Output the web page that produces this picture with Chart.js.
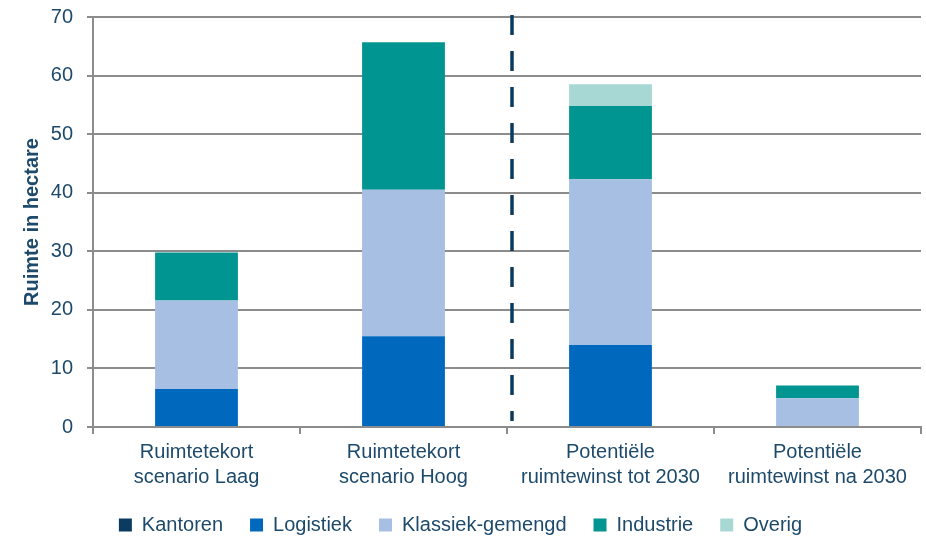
<!DOCTYPE html>
<html>
<head>
<meta charset="utf-8">
<script src="https://cdn.jsdelivr.net/npm/chart.js@4/dist/chart.umd.min.js"></script>
<style>
  html, body { margin: 0; padding: 0; background: #ffffff; }
  #wrap { width: 926px; height: 536px; position: relative; }
</style>
</head>
<body>
<div id="wrap"><canvas id="c"></canvas></div>
<script>
// Categories (two-line labels)
const categories = [
  ['Ruimtetekort', 'scenario Laag'],
  ['Ruimtetekort', 'scenario Hoog'],
  ['Potentiële', 'ruimtewinst tot 2030'],
  ['Potentiële', 'ruimtewinst na 2030']
];

// Hectares per segment type
const kantoren        = [0, 0, 0, 0];
const logistiek       = [6.5, 15.5, 14.0, 0];
const klassiekGemengd = [15.1, 25.0, 28.3, 4.9];
const industrie       = [8.2, 25.2, 12.5, 2.2];
const overig          = [0, 0, 3.7, 0];

const yTicks = [0, 10, 20, 30, 40, 50, 60, 70];

const textColor = '#1d4a6b';
const gridColor = '#8c8c8c';
const fontFamily = 'Liberation Sans, Arial, sans-serif';

// Vertical dashed separator between the shortfall and gain groups
const separator = {
  id: 'separator',
  afterDatasetsDraw(chart) {
    const x = chart.scales.x;
    const area = chart.chartArea;
    const px = (x.getPixelForValue(1) + x.getPixelForValue(2)) / 2 + 5;
    const ctx = chart.ctx;
    ctx.save();
    ctx.strokeStyle = '#0d3a5c';
    ctx.lineWidth = 3.5;
    ctx.setLineDash([20, 16]);
    ctx.beginPath();
    ctx.moveTo(px, area.top - 2);
    ctx.lineTo(px, area.bottom - 6);
    ctx.stroke();
    ctx.restore();
  }
};

const ds = (label, data, color) => ({
  label, data,
  backgroundColor: color,
  borderWidth: 0,
  barPercentage: 0.8,
  categoryPercentage: 0.5
});

new Chart(document.getElementById('c'), {
  type: 'bar',
  data: {
    labels: categories,
    datasets: [
      ds('Kantoren', kantoren, '#0b3b5e'),
      ds('Logistiek', logistiek, '#0068bd'),
      ds('Klassiek-gemengd', klassiekGemengd, '#a6bfe3'),
      ds('Industrie', industrie, '#009591'),
      ds('Overig', overig, '#a8d8d4')
    ]
  },
  options: {
    responsive: true,
    maintainAspectRatio: false,
    animation: false,
    layout: { autoPadding: false, padding: { top: 17, right: 5, left: 0, bottom: -9 } },
    plugins: {
      tooltip: { enabled: false },
      legend: {
        position: 'bottom',
        labels: {
          boxWidth: 13,
          boxHeight: 13,
          padding: 27,
          color: textColor,
          font: { family: fontFamily, size: 20 }
        }
      }
    },
    scales: {
      x: {
        stacked: true,
        grid: {
          display: true,
          offset: true,
          drawOnChartArea: false,
          drawTicks: true,
          tickLength: 7,
          color: gridColor,
          lineWidth: 2
        },
        border: { color: gridColor, width: 2 },
        ticks: {
          color: textColor,
          padding: 6,
          maxRotation: 0,
          font: { family: fontFamily, size: 20, lineHeight: 1.25 }
        },
        afterFit(scale) {
          scale.height = 61;
          scale.paddingLeft = 0;
          scale.paddingRight = 0;
        }
      },
      y: {
        stacked: true,
        min: 0,
        max: 70,
        afterBuildTicks(scale) { scale.ticks = yTicks.map(v => ({ value: v })); },
        afterFit(scale) {
          scale.width = 93;
          scale.paddingTop = 0;
          scale.paddingBottom = 0;
        },
        grid: {
          color: gridColor,
          lineWidth: 2,
          drawTicks: true,
          tickLength: 6
        },
        border: { color: gridColor, width: 2 },
        ticks: {
          color: textColor,
          padding: 14,
          font: { family: fontFamily, size: 20 }
        },
        title: {
          display: true,
          text: 'Ruimte in hectare',
          color: textColor,
          padding: { top: 20, bottom: 0 },
          font: { family: fontFamily, size: 20, weight: 'bold' }
        }
      }
    }
  },
  plugins: [separator]
});
</script>
</body>
</html>
